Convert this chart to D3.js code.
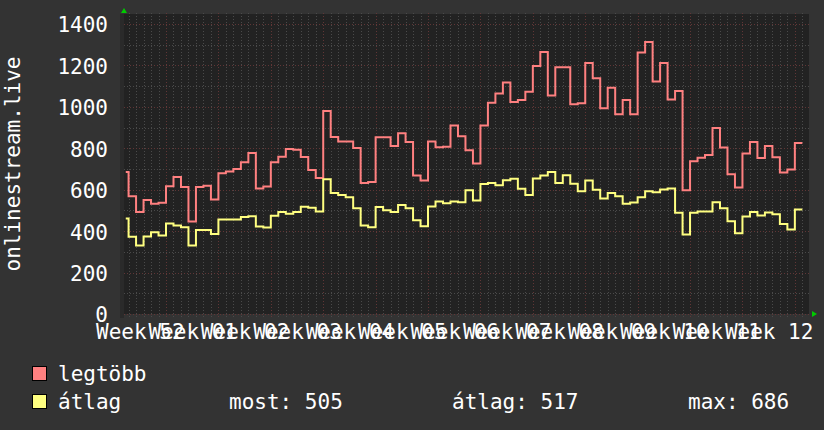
<!DOCTYPE html>
<html><head><meta charset="utf-8">
<script src="https://cdn.jsdelivr.net/npm/d3@7"></script>
<style>
body{margin:0;background:#333333;}
svg{display:block;}
text{font-family:"DejaVu Sans Mono",monospace;fill:#ffffff;}
</style>
</head><body><svg id="c" width="824" height="430"></svg>
<script>
// Daily values (first value is a partial day)
const maxValues = [685,569,492,550,532,537,617,661,613,447,613,619,553,679,688,700,733,777,606,616,
  733,759,797,793,758,695,656,980,854,833,833,801,632,637,853,853,811,872,830,669,645,833,805,808,
  910,858,790,726,910,1020,1065,1117,1023,1033,1073,1197,1265,1055,1191,1191,1012,1017,1212,1138,
  993,1092,964,1033,964,1262,1313,1123,1212,1036,1076,598,737,754,767,898,804,675,611,775,830,753,
  811,757,683,698,825];
const avgValues = [461,373,331,374,395,379,437,427,419,331,405,405,386,456,456,456,468,472,423,418,
  474,492,484,493,518,513,495,650,584,574,564,510,427,419,516,501,492,526,511,453,424,519,543,535,
  543,540,598,548,627,632,622,646,653,605,574,654,669,686,632,670,629,592,645,600,558,584,569,532,
  538,564,592,588,601,606,489,384,489,495,495,540,511,448,390,471,492,476,490,481,434,408,505];
const weekLabels = ["Week 52","Week 01","Week 02","Week 03","Week 04","Week 05","Week 06",
  "Week 07","Week 08","Week 09","Week 10","Week 11","Week 12"];
const yTicks = [0,200,400,600,800,1000,1200,1400];
const seriesNames = ["legtöbb","átlag"];
const seriesColors = ["#ff8080","#ffff80"];
const legendStats = ["most: 505","átlag: 517","max: 686"];
const yTitle = "onlinestream.live";

const firstSample = new Date(Date.UTC(2023,11,26,15,0));
const dayStarts = [firstSample, ...d3.utcDay.range(new Date(Date.UTC(2023,11,27)), new Date(Date.UTC(2024,2,26)))];
const endTime = new Date(Date.UTC(2024,2,26));

const L=124, R=809, T=14, B=314;
const svg = d3.select("#c");
const x = d3.scaleUtc().domain([new Date(Date.UTC(2023,11,26,9,20)), new Date(Date.UTC(2024,2,26,21,20))]).range([L,R]);
const y = d3.scaleLinear().domain([0,1400]).range([B,24]);

svg.append("rect").attr("x",0).attr("y",0).attr("width",824).attr("height",430).attr("fill","#333333");
svg.append("rect").attr("x",120).attr("y",T).attr("width",4).attr("height",B-T+4).attr("fill","#2a2a2a");
svg.append("rect").attr("x",L).attr("y",T).attr("width",R-L).attr("height",B-T).attr("fill","#222222");

const grid = svg.append("g");
const minorC = "#4a4a4a", majorC = "#603636";
// horizontal minor grid
const minorY = d3.range(100,1400,200);
grid.selectAll(".hm").data(minorY).join("line")
  .attr("x1",L).attr("x2",R+2).attr("y1",d=>Math.round(y(d))+0.5).attr("y2",d=>Math.round(y(d))+0.5)
  .attr("stroke",minorC).attr("stroke-dasharray","1,2");
// vertical minor grid (days)
const days = d3.utcDay.range(x.domain()[0], x.domain()[1]);
grid.selectAll(".vm").data(days).join("line")
  .attr("x1",d=>Math.round(x(d))+0.5).attr("x2",d=>Math.round(x(d))+0.5).attr("y1",T-1).attr("y2",B+3)
  .attr("stroke",minorC).attr("stroke-dasharray","1,2");
// major grid
grid.selectAll(".hM").data(yTicks).join("line")
  .attr("x1",L).attr("x2",R+2).attr("y1",d=>Math.round(y(d))+0.5).attr("y2",d=>Math.round(y(d))+0.5)
  .attr("stroke",majorC).attr("stroke-dasharray","1,2");
const mondays = d3.utcMonday.range(x.domain()[0], x.domain()[1]);
grid.selectAll(".vM").data(mondays).join("line")
  .attr("x1",d=>Math.round(x(d))+0.5).attr("x2",d=>Math.round(x(d))+0.5).attr("y1",T-1).attr("y2",B+3)
  .attr("stroke",majorC).attr("stroke-dasharray","1,2");

// series
const line = d3.line().x(d=>x(d[0])).y(d=>y(d[1])).curve(d3.curveStepAfter);
[maxValues, avgValues].forEach((vals,k)=>{
  const pts = dayStarts.map((d,i)=>[d, vals[i]]);
  pts.push([endTime, vals[vals.length-1]]);
  svg.append("path").attr("d", line(pts)).attr("fill","none")
    .attr("stroke", seriesColors[k]).attr("stroke-width",2).attr("stroke-linejoin","miter");
});

// arrows
svg.append("path").attr("d",`M${L-3},13 L${L+3},13 L${L},8 Z`).attr("fill","#00cc00");
svg.append("path").attr("d",`M${R+3},${B-3} L${R+3},${B+3} L${R+8},${B} Z`).attr("fill","#00cc00");

// y axis
const yAxis = svg.append("g").attr("transform",`translate(${L},0)`)
  .call(d3.axisLeft(y).tickValues(yTicks).tickFormat(d3.format("d")).tickSize(0).tickPadding(16));
yAxis.select(".domain").remove();
yAxis.selectAll("text").attr("dy","0.38em").style("font-size","21px").style("font-family","DejaVu Sans Mono").attr("fill","#fff");

// x axis labels (centered in each week)
const weekStarts = d3.utcMonday.range(new Date(Date.UTC(2023,11,25)), new Date(Date.UTC(2024,2,19)));
const centers = weekStarts.map(d=>d3.utcHour.offset(d,84));
const xAxis = svg.append("g").attr("transform",`translate(0,${B})`)
  .call(d3.axisBottom(x).tickValues(centers).tickFormat((d,i)=>weekLabels[i]).tickSize(0).tickPadding(10));
xAxis.select(".domain").remove();
xAxis.selectAll("text").style("font-size","21px").style("font-family","DejaVu Sans Mono").attr("fill","#fff");

// y title
svg.append("text").attr("transform","translate(20,164) rotate(-90)").attr("text-anchor","middle")
  .style("font-size","21px").text(yTitle);

// legend
const rows = [381, 409];
seriesNames.forEach((n,i)=>{
  svg.append("rect").attr("x",32.5).attr("y",rows[i]-14.5).attr("width",14).attr("height",14)
    .attr("fill",seriesColors[i]).attr("stroke","#000").attr("stroke-width",1);
  svg.append("text").attr("x",58).attr("y",rows[i]).style("font-size","21px").text(n);
});
const statX = [229, 452, 688];
legendStats.forEach((s,i)=>{
  svg.append("text").attr("x",statX[i]).attr("y",rows[1]).style("font-size","21px").text(s);
});
</script></body></html>
